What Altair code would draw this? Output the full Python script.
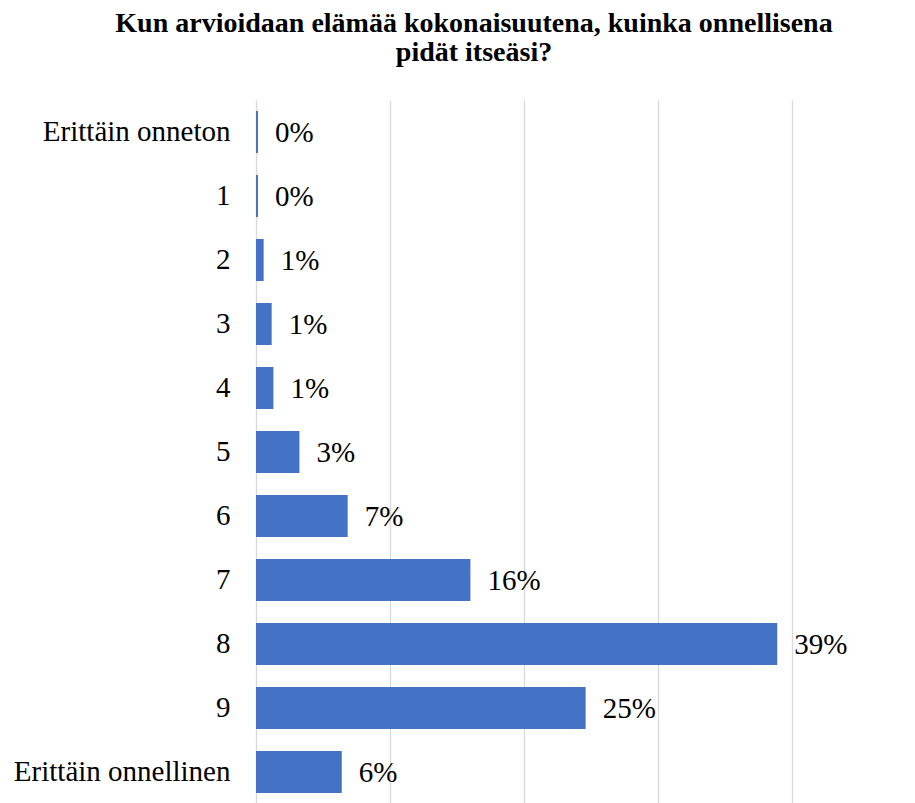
import altair as alt
import pandas as pd

categories = ["Erittäin onneton", "1", "2", "3", "4", "5", "6", "7", "8", "9", "Erittäin onnellinen"]
values = [0.15, 0.15, 0.57, 1.17, 1.3, 3.24, 6.84, 16.0, 38.9, 24.6, 6.4]

df = pd.DataFrame({"category": categories, "value": values})

FONT = "Liberation Serif"

base = alt.Chart(df).encode(
    y=alt.Y("category:N", sort=categories,
            scale=alt.Scale(paddingInner=0.344, paddingOuter=0.172),
            axis=alt.Axis(title=None, domain=False, ticks=False, labelPadding=26,
                          labelFont=FONT, labelFontSize=29, labelColor="#000000",
                          labelLimit=400)),
    x=alt.X("value:Q", scale=alt.Scale(domain=[0, 40], nice=False),
            axis=alt.Axis(title=None, labels=False, ticks=False, domain=False,
                          values=[0, 10, 20, 30, 40], grid=True,
                          gridColor="#d9d9d9", gridWidth=1.3)),
)

bars = base.mark_bar(color="#4472C4")
text = base.transform_calculate(
    lbl="format(datum.value, '.0f') + '%'"
).mark_text(align="left", baseline="middle", dx=17, dy=1,
            font=FONT, fontSize=29, color="#000000").encode(text="lbl:N")

chart = (bars + text).properties(
    width=536,
    height=704,
    padding={"top": 2, "left": 5, "right": 5, "bottom": 5},
    title=alt.TitleParams(
        text=["Kun arvioidaan elämää kokonaisuutena, kuinka onnellisena", "pidät itseäsi?"],
        font=FONT, fontSize=28, fontWeight="bold", color="#000000",
        lineHeight=29, anchor="middle", dx=-50, offset=33,
    ),
).configure_view(stroke=None)

chart.save("out.html", embed_options={"renderer": "svg", "actions": False})
